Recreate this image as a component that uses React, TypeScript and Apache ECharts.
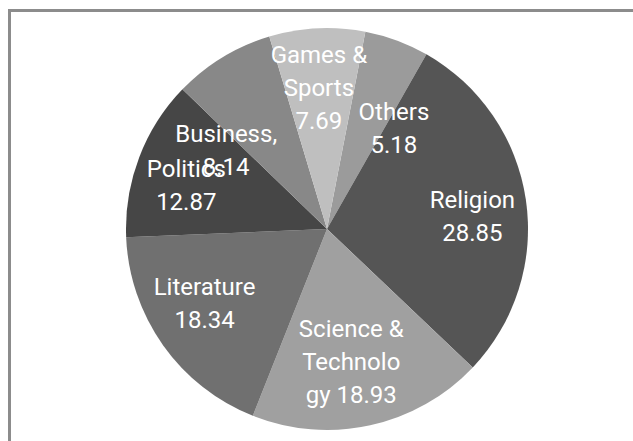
import React, { useEffect, useRef } from "react";
import * as echarts from "echarts";

const categories = ["Others", "Religion", "Science & Technology", "Literature", "Politics", "Business,", "Games & Sports"];
const values = [5.18, 28.85, 18.93, 18.34, 12.87, 8.14, 7.69];
const labelTexts = ["Others\n5.18", "Religion\n28.85", "Science &\nTechnolo\ngy 18.93", "Literature\n18.34", "Politics\n12.87", "Business,\n8.14", "Games &\nSports\n7.69"];
const sliceColors = ["#9b9b9b", "#555555", "#a0a0a0", "#707070", "#464646", "#888888", "#bfbfbf"];
const labelShift = [[31, -3], [43, 3], [2, 32], [-38, 15], [-44, -7], [-47, 10], [-3, -38]];

export default function App() {
  const ref = useRef<HTMLDivElement>(null);
  useEffect(() => {
    if (!ref.current) return;
    const chart = echarts.init(ref.current, undefined, { renderer: "svg" });
    chart.setOption({
      animation: false,
      backgroundColor: "#ffffff",
      graphic: [
        { type: "line", shape: { x1: 8, y1: 10.5, x2: 640, y2: 10.5 }, style: { stroke: "#8c8c8c", lineWidth: 3 } },
        { type: "line", shape: { x1: 9.5, y1: 9, x2: 9.5, y2: 450 }, style: { stroke: "#8c8c8c", lineWidth: 3 } },
      ],
      series: [
        {
          type: "pie",
          center: [327, 229],
          radius: 201,
          startAngle: 79,
          clockwise: true,
          silent: true,
          data: categories.map((n, i) => ({
            name: n,
            value: values[i],
            itemStyle: { color: sliceColors[i] },
            label: { formatter: labelTexts[i] },
          })),
          itemStyle: { borderWidth: 0 },
          label: {
            show: true,
            position: "inside",
            color: "#ffffff",
            fontFamily: "Roboto",
            fontSize: 24,
            lineHeight: 33,
            align: "center",
          },
          labelLine: { show: false },
          labelLayout: (p: any) => ({ dx: labelShift[p.dataIndex][0], dy: labelShift[p.dataIndex][1] }),
        },
      ],
    });
    return () => chart.dispose();
  }, []);
  return <div ref={ref} style={{ position: "fixed", left: 0, top: 0, width: 633, height: 441 }} />;
}
